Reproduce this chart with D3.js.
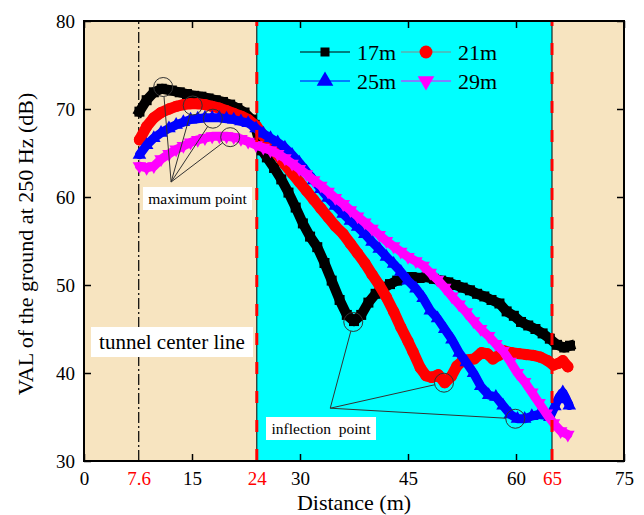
<!DOCTYPE html>
<html>
<head>
<meta charset="utf-8">
<script src="https://cdn.jsdelivr.net/npm/d3@7"></script>
<style>
  body { margin: 0; background: #fff; }
  svg, svg text { font-family: "Liberation Serif", "Times New Roman", serif; }
</style>
</head>
<body>
<div id="chart"></div>
<script>
// data (distance in m, VAL in dB)
const dist17 = [7.7, 8.7, 9.7, 10.8, 12.2, 13.3, 14.3, 15.3, 16.3, 17.3, 18.3, 19.3, 20.3, 21.3, 22.3, 23.3, 23.7, 24.7, 25.4, 26.4, 27.4, 28.4, 29.4, 30.4, 31.4, 32.4, 33.4, 34.4, 35.5, 36.5, 37.5, 38.5, 39.5, 40.5, 41.5, 42.5, 43.5, 44.5, 45.5, 46.6, 47.6, 48.6, 49.6, 50.6, 51.6, 52.6, 53.6, 54.6, 55.6, 56.6, 57.7, 58.7, 59.7, 60.7, 61.7, 62.7, 63.7, 64.7, 65.7, 66.7, 67.5]
const val17 = [69.7, 71.0, 71.9, 72.3, 72.1, 71.9, 71.7, 71.5, 71.4, 71.2, 71.0, 70.8, 70.5, 70.1, 69.6, 68.8, 68.2, 65.3, 64.5, 63.3, 62.0, 60.5, 58.8, 57.0, 55.5, 54.3, 52.5, 50.5, 48.3, 46.6, 45.9, 46.6, 48.0, 49.0, 49.6, 50.1, 50.5, 50.7, 50.9, 50.8, 50.9, 50.7, 50.5, 50.3, 50.0, 49.7, 49.4, 49.0, 48.7, 48.3, 47.9, 47.0, 46.5, 45.8, 45.4, 45.0, 44.5, 43.9, 43.2, 42.9, 43.1]

const dist21 = [7.7, 8.7, 9.7, 10.7, 11.8, 12.8, 13.8, 14.8, 15.8, 16.8, 17.8, 18.8, 19.8, 20.8, 21.8, 22.8, 23.9, 24.9, 25.9, 26.9, 27.9, 28.9, 29.9, 30.9, 31.9, 32.9, 33.9, 34.9, 36.0, 37.0, 38.0, 39.0, 40.0, 41.0, 42.0, 43.0, 44.0, 45.0, 45.7, 46.7, 47.5, 48.3, 49.2, 50.1, 51.0, 51.8, 52.6, 53.4, 54.2, 55.2, 56.0, 56.8, 57.6, 58.4, 59.4, 60.4, 61.4, 62.4, 63.4, 64.4, 65.2, 65.9, 66.5, 67.2]
const val21 = [66.5, 68.0, 69.0, 69.6, 70.0, 70.3, 70.5, 70.6, 70.6, 70.5, 70.3, 70.1, 69.8, 69.5, 69.2, 68.8, 68.1, 67.0, 65.8, 64.8, 63.7, 62.7, 61.7, 60.7, 59.7, 58.7, 57.7, 56.7, 55.8, 54.7, 53.6, 52.5, 51.2, 50.0, 48.6, 47.0, 45.2, 43.6, 42.4, 40.6, 39.7, 39.5, 39.8, 38.9, 39.6, 40.8, 41.4, 41.5, 41.6, 42.3, 42.2, 41.6, 42.0, 42.5, 42.3, 42.2, 42.1, 42.0, 41.8, 41.4, 40.9, 41.1, 41.4, 40.7]

const dist25 = [7.7, 8.7, 9.7, 10.7, 11.8, 12.8, 13.8, 14.8, 15.8, 16.8, 17.8, 18.8, 19.8, 20.8, 21.8, 22.8, 23.9, 24.9, 25.9, 26.9, 27.9, 28.9, 29.9, 30.9, 31.9, 32.9, 33.9, 34.9, 36.0, 37.0, 38.0, 39.0, 40.0, 41.0, 42.0, 43.0, 44.0, 45.0, 46.1, 47.1, 48.1, 49.1, 50.1, 51.1, 52.1, 53.1, 54.1, 55.1, 56.2, 57.2, 58.2, 59.2, 60.2, 61.2, 62.2, 63.2, 64.2, 64.7, 65.4, 66.0, 66.5, 67.0, 67.4]
const val25 = [64.8, 65.9, 66.7, 67.3, 67.8, 68.2, 68.5, 68.8, 68.9, 69.0, 69.0, 69.0, 68.9, 68.8, 68.6, 68.4, 67.8, 67.2, 66.7, 66.2, 65.6, 64.8, 63.9, 62.9, 61.9, 60.9, 59.9, 59.0, 58.1, 57.3, 56.6, 55.8, 54.9, 54.1, 53.2, 52.4, 51.5, 50.5, 49.6, 48.5, 47.1, 46.2, 45.0, 43.8, 42.3, 41.2, 40.0, 38.5, 37.5, 37.3, 36.3, 35.3, 34.8, 34.8, 35.1, 35.3, 35.2, 35.0, 36.2, 37.3, 37.8, 37.0, 36.3]

const dist29 = [7.7, 8.7, 9.7, 10.7, 11.8, 12.8, 13.8, 14.8, 15.8, 16.8, 17.8, 18.8, 19.8, 20.8, 21.8, 22.8, 23.9, 24.9, 25.9, 26.9, 27.9, 28.9, 29.9, 30.9, 31.9, 32.9, 33.9, 34.9, 36.0, 37.0, 38.0, 39.0, 40.0, 41.0, 42.0, 43.0, 44.0, 45.0, 46.1, 47.1, 48.1, 49.1, 50.1, 51.1, 52.1, 53.1, 54.1, 55.1, 56.2, 57.2, 58.2, 59.2, 60.2, 61.2, 62.2, 63.2, 64.2, 65.2, 66.2, 67.2]
const val29 = [63.5, 63.3, 63.5, 64.3, 64.9, 65.4, 65.8, 66.2, 66.5, 66.7, 66.9, 66.9, 66.9, 66.8, 66.6, 66.3, 65.9, 65.6, 65.3, 64.9, 64.4, 63.8, 63.2, 62.6, 61.9, 61.3, 60.6, 59.9, 59.2, 58.5, 57.8, 57.1, 56.4, 55.7, 55.0, 54.4, 53.8, 53.2, 52.7, 52.2, 51.4, 50.6, 49.7, 48.7, 47.8, 46.9, 45.9, 45.0, 44.2, 43.3, 42.5, 41.3, 40.0, 39.0, 37.8, 36.6, 35.4, 34.3, 33.4, 33.0]

const seriesNames = ['17m', '21m', '25m', '29m']
const xTicks = [0, 15, 30, 45, 60, 75]
const xRedTicks = [7.6, 24, 65]
const yTicks = [30, 40, 50, 60, 70, 80]
const tunnelCenter = 7.6
const zoneEdges = [24, 65]

// annotated points [distance, dB]
const maxPoints = [[11.0, 72.5], [15.1, 70.4], [17.9, 68.9], [20.3, 66.8]]
const maxHub = [12.1, 61.7]
const inflPoints = [[37.4, 45.8], [50.0, 38.9], [59.9, 34.8]]
const inflHub = [34.2, 36.0]

const FONT = '"Liberation Serif", "Times New Roman", serif'
const W = 644, H = 515
const m = {left: 84, right: 624, top: 21, bottom: 461}
const x = d3.scaleLinear().domain([0, 75]).range([m.left, m.right])
const y = d3.scaleLinear().domain([30, 80]).range([m.bottom, m.top])

const svg = d3.select('#chart')
  .append('svg')
  .attr('width', W)
  .attr('height', H)
  .attr('font-family', FONT)

svg.append('rect').attr('width', W).attr('height', H).attr('fill', '#fff')

// background zones
svg.append('rect')
  .attr('x', m.left).attr('y', m.top)
  .attr('width', m.right - m.left).attr('height', m.bottom - m.top)
  .attr('fill', '#F7E4C0')
svg.append('rect')
  .attr('x', x(zoneEdges[0])).attr('y', m.top)
  .attr('width', x(zoneEdges[1]) - x(zoneEdges[0])).attr('height', m.bottom - m.top)
  .attr('fill', '#00FFFF')

// zone edges: thin black line
zoneEdges.forEach(e => {
  svg.append('line')
    .attr('x1', x(e)).attr('x2', x(e)).attr('y1', m.top).attr('y2', m.bottom)
    .attr('stroke', '#000').attr('stroke-width', 1)
})

// tunnel center line (dash-dot)
svg.append('line')
  .attr('x1', x(tunnelCenter)).attr('x2', x(tunnelCenter))
  .attr('y1', m.bottom).attr('y2', m.top)
  .attr('stroke', '#000').attr('stroke-width', 1.2)
  .attr('stroke-dasharray', '11,3,2,3')

// series
const series = [
  {name: seriesNames[0], dist: dist17, vals: val17, color: '#000000', symbol: d3.symbolSquare, size: 100, lw: 10, rot: false},
  {name: seriesNames[1], dist: dist21, vals: val21, color: '#FF0000', symbol: d3.symbolCircle, size: 100, lw: 11, rot: false},
  {name: seriesNames[2], dist: dist25, vals: val25, color: '#0000FF', symbol: d3.symbolTriangle, size: 80, lw: 9, rot: false},
  {name: seriesNames[3], dist: dist29, vals: val29, color: '#FF00FF', symbol: d3.symbolTriangle, size: 80, lw: 9, rot: true},
]

const line = d3.line().x(d => x(d[0])).y(d => y(d[1]))

series.forEach(s => {
  const pts = d3.zip(s.dist, s.vals)
  const g = svg.append('g').attr('class', 'series')
  g.append('path')
    .attr('d', line(pts))
    .attr('fill', 'none')
    .attr('stroke', s.color)
    .attr('stroke-width', s.lw)
    .attr('stroke-linejoin', 'round')
    .attr('stroke-linecap', s.symbol === d3.symbolSquare ? 'square' : 'round')
  g.selectAll('.mk')
    .data(pts)
    .enter()
      .append('path')
      .attr('class', 'mk')
      .attr('transform', d => 'translate(' + x(d[0]) + ',' + y(d[1]) + ')' + (s.rot ? ' rotate(180)' : ''))
      .attr('d', d3.symbol().type(s.symbol).size(s.size))
      .attr('fill', s.color)
})

// red dashed zone lines
zoneEdges.forEach(e => {
  svg.append('line')
    .attr('x1', x(e)).attr('x2', x(e)).attr('y1', m.bottom).attr('y2', m.top)
    .attr('stroke', '#FF0000').attr('stroke-width', 3)
    .attr('stroke-dasharray', '12,17')
})

// annotations
const annotate = (points, hub, r) => {
  const hx = x(hub[0]), hy = y(hub[1])
  points.forEach(p => {
    const cx = x(p[0]), cy = y(p[1])
    const dx = hx - cx, dy = hy - cy, len = Math.sqrt(dx * dx + dy * dy)
    svg.append('circle')
      .attr('cx', cx).attr('cy', cy).attr('r', r)
      .attr('fill', 'none').attr('stroke', '#333').attr('stroke-width', 1)
    svg.append('line')
      .attr('x1', hx).attr('y1', hy)
      .attr('x2', cx + dx / len * r).attr('y2', cy + dy / len * r)
      .attr('stroke', '#333').attr('stroke-width', 1)
  })
}
annotate(maxPoints, maxHub, 9.5)
annotate(inflPoints, inflHub, 9.5)

const label = (text, bx, by, bw, bh, fs) => {
  svg.append('rect')
    .attr('x', bx).attr('y', by).attr('width', bw).attr('height', bh)
    .attr('fill', '#fff')
  svg.append('text')
    .attr('x', bx + bw / 2).attr('y', by + bh / 2)
    .attr('text-anchor', 'middle')
    .attr('dominant-baseline', 'central')
    .attr('font-size', fs)
    .attr('fill', '#000')
    .style('white-space', 'pre')
    .text(text)
}
label('maximum point', 143, 187, 109, 23, 15.5)
label('inflection  point', 266, 417, 110, 23, 15.5)
label('tunnel center line', 91, 327, 162, 30, 21)

// legend
const legendPos = [[300, 52], [401, 52], [300, 81], [401, 81]]
const legendLine = ['#000', '#888', '#0000FF', '#FF00FF']
const legendSize = [81, 130, 120, 120]
series.forEach((s, i) => {
  const [lx, ly] = legendPos[i]
  svg.append('line')
    .attr('x1', lx).attr('x2', lx + 50).attr('y1', ly).attr('y2', ly)
    .attr('stroke', legendLine[i]).attr('stroke-width', 1.2)
  svg.append('path')
    .attr('transform', 'translate(' + (lx + 25) + ',' + ly + ')' + (s.rot ? ' rotate(180)' : ''))
    .attr('d', d3.symbol().type(s.symbol).size(legendSize[i]))
    .attr('fill', s.color)
  svg.append('text')
    .attr('x', lx + 57).attr('y', ly)
    .attr('dominant-baseline', 'central')
    .attr('font-size', 22)
    .text(s.name)
})

// axes
const styleAxis = (g, fs) => {
  g.select('.domain').remove()
  g.selectAll('.tick line').attr('stroke', '#000').attr('stroke-width', 1.5)
  g.attr('font-family', FONT)
  g.selectAll('text').attr('font-size', fs).attr('fill', '#000')
}

svg.append('g')
  .attr('transform', 'translate(0,' + m.bottom + ')')
  .call(d3.axisBottom(x).tickValues(xTicks).tickSizeInner(-7).tickSizeOuter(0).tickPadding(11).tickFormat(d3.format('d')))
  .call(g => styleAxis(g, 19))

svg.append('g')
  .attr('transform', 'translate(0,' + m.bottom + ')')
  .call(d3.axisBottom(x).tickValues(xRedTicks).tickSize(0).tickPadding(11).tickFormat(d => String(d)))
  .call(g => styleAxis(g, 19))
  .call(g => g.selectAll('text').attr('fill', '#FF0000'))

svg.append('g')
  .attr('transform', 'translate(0,' + m.top + ')')
  .call(d3.axisTop(x).tickValues(xTicks).tickSizeInner(-7).tickSizeOuter(0).tickFormat(''))
  .call(g => styleAxis(g, 19))

svg.append('g')
  .attr('transform', 'translate(' + m.left + ',0)')
  .call(d3.axisLeft(y).tickValues(yTicks).tickSizeInner(-7).tickSizeOuter(0).tickPadding(9))
  .call(g => styleAxis(g, 19))

svg.append('g')
  .attr('transform', 'translate(' + m.right + ',0)')
  .call(d3.axisRight(y).tickValues(yTicks).tickSizeInner(-7).tickSizeOuter(0).tickFormat(''))
  .call(g => styleAxis(g, 19))

// frame
svg.append('rect')
  .attr('x', m.left).attr('y', m.top)
  .attr('width', m.right - m.left).attr('height', m.bottom - m.top)
  .attr('fill', 'none').attr('stroke', '#000').attr('stroke-width', 2)

// axis titles
svg.append('text')
  .attr('x', (m.left + m.right) / 2).attr('y', 510)
  .attr('text-anchor', 'middle')
  .attr('font-size', 22)
  .text('Distance (m)')

svg.append('text')
  .attr('transform', 'translate(25,' + ((m.top + m.bottom) / 2 + 3) + ') rotate(-90)')
  .attr('text-anchor', 'middle')
  .attr('dominant-baseline', 'central')
  .attr('font-size', 22)
  .text('VAL of the ground at 250 Hz (dB)')
</script>
</body>
</html>
